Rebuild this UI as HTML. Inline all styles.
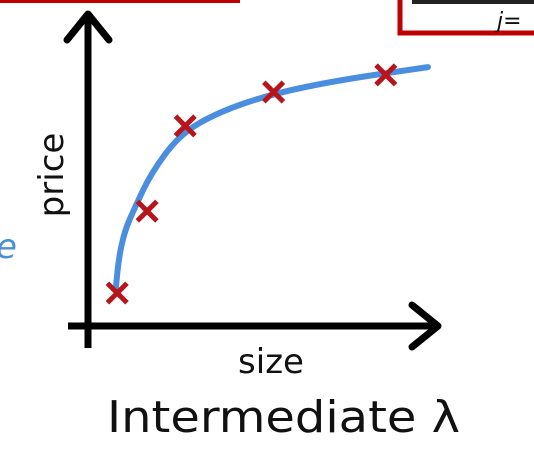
<!DOCTYPE html>
<html><head><meta charset="utf-8">
<style>
html,body{margin:0;padding:0;background:#fff;}
svg{display:block;}
text{font-family:"DejaVu Sans","Liberation Sans",sans-serif;}
</style></head>
<body>
<svg id="chart" width="534" height="470" viewBox="0 0 534 470">
  <line x1="0" y1="1" x2="240" y2="1" stroke="#c00000" stroke-width="4"/>
  <g>
    <path d="M400 0 L400 33 L534 33" fill="none" stroke="#c00000" stroke-width="5"/>
    <text x="497" y="28" font-size="22" font-style="italic" fill="#111">j=</text>
    <rect x="412" y="0" width="122" height="4" fill="#222"/>
  </g>
  <text x="-4" y="258" font-size="34" font-style="italic" fill="#4a90d9">e</text>
  <g id="axes">
    <line x1="88" y1="16" x2="88" y2="348" stroke="#000" stroke-width="7"/>
    <polyline points="67,40 88,14 109,40" fill="none" stroke="#000" stroke-width="7" stroke-linecap="round" stroke-linejoin="round"/>
    <line x1="68" y1="326" x2="438" y2="326" stroke="#000" stroke-width="7"/>
    <polyline points="412,305 438,326 412,347" fill="none" stroke="#000" stroke-width="7" stroke-linecap="round" stroke-linejoin="round"/>
  </g>
  <text x="0" y="0" font-size="34" fill="#111" transform="translate(63,175) rotate(-90)" text-anchor="middle">price</text>
  <text x="271" y="373" font-size="34" fill="#111" text-anchor="middle">size</text>
  <text x="107" y="432" font-size="44" fill="#111" textLength="353" lengthAdjust="spacingAndGlyphs">Intermediate λ</text>
  <g id="marks"></g>
</svg>
<script>
const sizes = [0.8, 1.68, 2.8, 5.4, 8.7];
const prices = [1.1, 3.83, 6.67, 7.8, 8.37];
const curveX = [0.76, 0.85, 1.03, 1.32, 1.8, 2.65, 3.82, 5.4, 7.35, 9.94];
const curveY = [1.27, 2.3, 3.2, 3.95, 5.1, 6.4, 7.15, 7.75, 8.2, 8.63];

function xScale(v){ return 90 + v * 34; }
function yScale(v){ return 326 - v * 30; }

const NS = "http://www.w3.org/2000/svg";
const g = document.getElementById('marks');

let d = '';
curveX.forEach((v, i) => {
  const px = xScale(v), py = yScale(curveY[i]);
  if (i === 0) { d += 'M' + px + ' ' + py; }
  else {
    const pxp = xScale(curveX[i-1]), pyp = yScale(curveY[i-1]);
    const mx = (pxp + px) / 2, my = (pyp + py) / 2;
    d += ' Q' + pxp + ' ' + pyp + ' ' + mx + ' ' + my;
  }
});
d += ' L' + xScale(curveX[curveX.length-1]) + ' ' + yScale(curveY[curveY.length-1]);
const path = document.createElementNS(NS, 'path');
path.setAttribute('d', d);
path.setAttribute('fill', 'none');
path.setAttribute('stroke', '#4a8ee0');
path.setAttribute('stroke-width', '6');
path.setAttribute('stroke-linecap', 'round');
path.setAttribute('stroke-linejoin', 'round');


g.appendChild(path);

sizes.forEach((v, i) => {
  const cx = xScale(v), cy = yScale(prices[i]), r = 8;
  const m = document.createElementNS(NS, 'path');
  m.setAttribute('d', 'M' + (cx-r) + ' ' + (cy-r) + ' L' + (cx+r) + ' ' + (cy+r) + ' M' + (cx+r) + ' ' + (cy-r) + ' L' + (cx-r) + ' ' + (cy+r));
  m.setAttribute('stroke', '#b8141c');
  m.setAttribute('stroke-width', '5');
  m.setAttribute('stroke-linecap', 'square');
  
  
  g.appendChild(m);
});
</script>
</body></html>
